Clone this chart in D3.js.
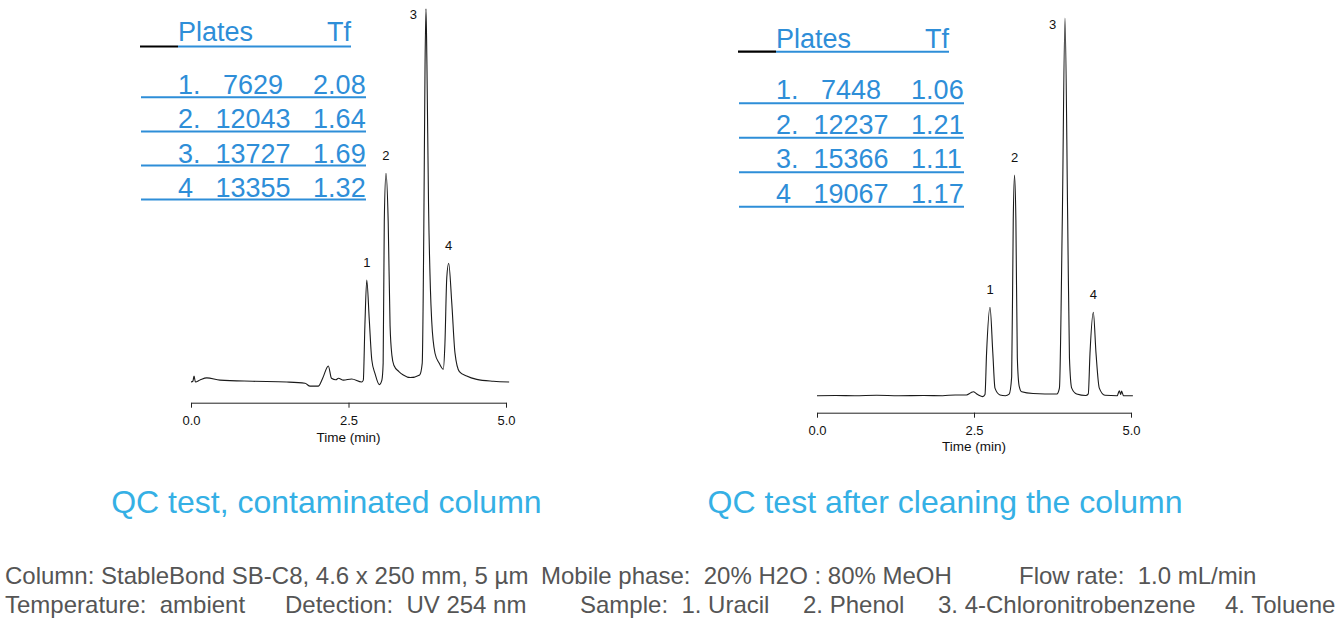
<!DOCTYPE html>
<html>
<head>
<meta charset="utf-8">
<script src="https://cdn.jsdelivr.net/npm/d3@7"></script>
<style>
  body { margin: 0; background: #fff; }
  svg { display: block; font-family: "Liberation Sans", Arial, sans-serif; }
  .tbl { fill: #2e8ed8; font-size: 27px; white-space: pre; }
  .title { fill: #35b0e5; font-size: 32px; }
  .cond { fill: #555; font-size: 24px; white-space: pre; }
  .axis text { font-size: 13px; fill: #111; font-family: "Liberation Sans", Arial, sans-serif; }
  .axis path, .axis line { stroke: #222; }
</style>
</head>
<body>
<script>
// ---- data ----
const peakIds = ["1.", "2.", "3.", "4"];
const peakLabels = ["1", "2", "3", "4"];
const platesBefore = [7629, 12043, 13727, 13355];
const tfBefore = ["2.08", "1.64", "1.69", "1.32"];
const platesAfter = [7448, 12237, 15366, 19067];
const tfAfter = ["1.06", "1.21", "1.11", "1.17"];
const timeTicks = [0, 2.5, 5.0];
const titles = ["QC test, contaminated column", "QC test after cleaning the column"];

// apex of each peak [time (min), relative signal]
const apexBefore = [[2.79, 27.3], [3.095, 55.9], [3.73, 100], [4.09, 31.8]];
const apexAfter = [[2.755, 23.4], [3.145, 58.4], [3.949, 100], [4.40, 22.1]];

// traces [time (min), relative signal], peak 3 = 100
const traceBefore = [
  [0, 0], [0.03, 0.2], [0.048, 1.6], [0.07, 0], [0.15, 0.6], [0.25, 1.1], [0.46, 0.5],
  [0.98, 0.2], [1.52, 0], [1.81, -0.35], [1.89, -1.1], [2.02, -1.1], [2.09, 1.0],
  [2.18, 4.3], [2.23, 1.0], [2.3, 0.6], [2.34, 1.0], [2.42, 0.5], [2.55, 0.8], [2.71, 0],
  [2.735, 0.5], [2.76, 15], [2.79, 27.3], [2.83, 16.6], [2.87, 5.9], [2.92, 2.3],
  [2.99, -0.7], [3.03, 0.5], [3.05, 5], [3.068, 43], [3.095, 55.9], [3.13, 43],
  [3.16, 15], [3.19, 7], [3.22, 4.5], [3.30, 2.8], [3.37, 1.9], [3.48, 1.2], [3.63, 1.9],
  [3.67, 5], [3.695, 40], [3.715, 85], [3.73, 100], [3.745, 85], [3.77, 48], [3.80, 25],
  [3.82, 16.6], [3.873, 7.7], [3.94, 5.0], [4.005, 3.4], [4.03, 10], [4.06, 28],
  [4.09, 31.8], [4.14, 21], [4.19, 7.8], [4.26, 2.8], [4.376, 1.6], [4.535, 0.7],
  [4.8, 0.2], [5.05, 0]
];
const traceAfter = [
  [0, 0], [0.3, 0.05], [0.6, 0], [0.95, 0.1], [1.3, 0], [1.7, 0.05], [2.0, 0], [2.2, 0.2],
  [2.38, 0.2], [2.45, 0.8], [2.49, 1.05], [2.54, 0.5], [2.57, 0.2], [2.64, -0.25],
  [2.675, 0.3], [2.70, 11.2], [2.755, 23.4], [2.80, 11.2], [2.834, 2.0], [2.914, 0.2],
  [3.0, 0], [3.06, 0.4], [3.10, 5], [3.125, 46.5], [3.145, 58.4], [3.167, 46.5],
  [3.19, 10], [3.22, 2.5], [3.26, 1.05], [3.44, 0.6], [3.82, 0.45], [3.86, 2],
  [3.906, 46.5], [3.949, 100], [3.992, 46.5], [4.02, 10], [4.056, 2.0], [4.135, 0.45],
  [4.28, 0.05], [4.32, 0.5], [4.347, 11.2], [4.40, 22.1], [4.443, 11.2], [4.495, 2.0],
  [4.586, 0.1], [4.78, 0], [4.814, 1.3], [4.836, 0.3], [4.85, 1.2], [4.88, 0], [5.03, 0]
];

const conditions = [
  ["Column: StableBond SB-C8, 4.6 x 250 mm, 5 µm", "Mobile phase:  20% H2O : 80% MeOH", "Flow rate:  1.0 mL/min"],
  ["Temperature:  ambient", "Detection:  UV 254 nm", "Sample:  1. Uracil", "2. Phenol", "3. 4-Chloronitrobenzene", "4. Toluene"]
];

// ---- layout ----
const W = 1342, H = 622;
const panels = [
  { trace: traceBefore, apex: apexBefore, plates: platesBefore, tf: tfBefore, title: titles[0],
    x0: 191, x1: 506, base: 382, top: 8.7, axisY: 402.7, timeDy: 39.5,
    tblX: 178, headY: 41, headLine: 46.5, rowY: 94.3, rowStep: 34.1, lineDy: 3, titleX: 326.4 },
  { trace: traceAfter, apex: apexAfter, plates: platesAfter, tf: tfAfter, title: titles[1],
    x0: 817, x1: 1131, base: 395.7, top: 18, axisY: 412.7, timeDy: 38.5,
    tblX: 776, headY: 48.3, headLine: 51.7, rowY: 99.3, rowStep: 34.5, lineDy: 4, titleX: 945 }
];
const condX = [[5, 541, 1019], [5, 285, 580, 803, 938, 1225]];
const condY = [584, 612.5];

const svg = d3.select("body").append("svg")
  .attr("width", W)
  .attr("height", H);

// row text spaced like the original text box
function rowText(id, plates, tf) {
  const short = plates < 10000;
  const gap1 = (short ? 3 : 2) + (id.endsWith(".") ? 0 : 1);
  const gap2 = short ? 4 : 3;
  return id + " ".repeat(gap1) + plates + " ".repeat(gap2) + tf;
}

function drawPanel(p) {
  const x = d3.scaleLinear().domain([0, 5]).range([p.x0, p.x1]);
  const y = d3.scaleLinear().domain([0, 100]).range([p.base, p.top]);
  const g = svg.append("g");

  // chromatogram
  g.append("path")
    .datum(p.trace)
    .attr("d", d3.line().x(d => x(d[0])).y(d => y(d[1])).curve(d3.curveMonotoneX))
    .attr("fill", "none")
    .attr("stroke", "#1a1a1a")
    .attr("stroke-width", 1.1);

  // time axis
  g.append("g")
    .attr("class", "axis")
    .attr("transform", `translate(0,${p.axisY})`)
    .call(d3.axisBottom(x).tickValues(timeTicks).tickFormat(d3.format(".1f"))
      .tickSize(5).tickSizeOuter(0).tickPadding(8.5));

  g.append("text")
    .attr("x", x(2.5))
    .attr("y", p.axisY + p.timeDy)
    .attr("text-anchor", "middle")
    .style("font-size", "13.5px")
    .style("fill", "#111")
    .text("Time (min)");

  // peak numbers: above the apex, peak 3 sits to its left
  g.selectAll("text.peak")
    .data(p.apex)
    .enter()
    .append("text")
    .attr("class", "peak")
    .attr("x", (d, i) => x(d[0]) + (i === 2 ? -12.5 : 0))
    .attr("y", (d, i) => y(d[1]) + (i === 2 ? 6 : -18))
    .attr("dy", "0.36em")
    .attr("text-anchor", "middle")
    .style("font-size", "13px")
    .style("fill", "#111")
    .text((d, i) => peakLabels[i]);

  // plates / tailing table
  g.append("line")
    .attr("x1", p.tblX - 38).attr("x2", p.tblX)
    .attr("y1", p.headLine).attr("y2", p.headLine)
    .attr("stroke", "#000").attr("stroke-width", 2.2);
  g.append("line")
    .attr("x1", p.tblX).attr("x2", p.tblX + 173)
    .attr("y1", p.headLine).attr("y2", p.headLine)
    .attr("stroke", "#2e8ed8").attr("stroke-width", 2);
  g.append("text").attr("class", "tbl")
    .attr("x", p.tblX).attr("y", p.headY).text("Plates");
  g.append("text").attr("class", "tbl")
    .attr("x", p.tblX + 173).attr("y", p.headY)
    .attr("text-anchor", "end").text("Tf");

  const rows = g.selectAll("g.row")
    .data(peakIds)
    .enter()
    .append("g")
    .attr("class", "row")
    .attr("transform", (d, i) => `translate(0,${p.rowY + i * p.rowStep})`);
  rows.append("text").attr("class", "tbl")
    .attr("x", p.tblX)
    .text((d, i) => rowText(d, p.plates[i], p.tf[i]));
  rows.append("line")
    .attr("x1", p.tblX - 37).attr("x2", p.tblX + 188)
    .attr("y1", p.lineDy).attr("y2", p.lineDy)
    .attr("stroke", "#2e8ed8").attr("stroke-width", 2);

  // caption
  svg.append("text").attr("class", "title")
    .attr("x", p.titleX).attr("y", 512.7)
    .attr("text-anchor", "middle")
    .text(p.title);
}

panels.forEach(drawPanel);

// run conditions
conditions.forEach((line, li) => {
  svg.selectAll(null)
    .data(line)
    .enter()
    .append("text")
    .attr("class", "cond")
    .attr("x", (d, i) => condX[li][i])
    .attr("y", condY[li])
    .text(d => d);
});
</script>
</body>
</html>
